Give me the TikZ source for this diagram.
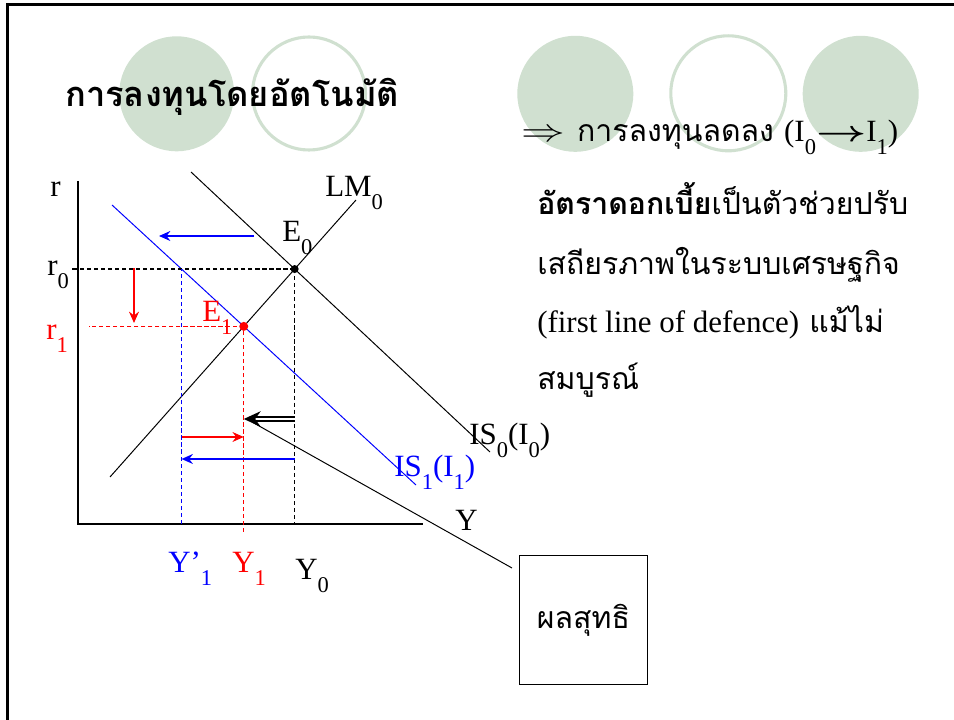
\documentclass[tikz,border=0pt]{standalone}
\usepackage{fontspec}
\setmainfont{Liberation Serif}
\newfontfamily\thaifont[Script=Thai]{Loma}
\usetikzlibrary{arrows.meta,intersections}
\definecolor{leaf}{RGB}{208,224,208}
\newcommand{\lo}[1]{\raisebox{-9pt}{\fontsize{16}{16}\selectfont #1}}
\newcommand{\lat}[1]{{\rmfamily\fontsize{22}{26}\selectfont #1}}

\begin{document}
\begin{tikzpicture}[x=0.025cm, y=-0.025cm,
    every node/.style={inner sep=0pt, font=\fontsize{22}{26}\selectfont},
    thai/.style={font=\thaifont\fontsize{21.5}{28}\selectfont},
    curve/.style={line width=0.7pt},
    guide/.style={line width=1pt, dash pattern=on 3pt off 2pt},
    move/.style={line width=2.1pt, -{Stealth[length=8pt, width=7pt]}}]
  \useasboundingbox (0,0) rectangle (954,720);

  % slide frame and circles
  \draw[line width=2.2pt] (7.5,720) -- (7.5,4.5) -- (954,4.5);
  \fill[leaf] (176.7,93.8) circle (57.5);
  \draw[leaf, line width=2.2pt] (309,93.5) circle (56.5);
  \fill[leaf] (575.3,93.8) circle (58);
  \draw[leaf, line width=2.2pt] (728.3,93.3) circle (57.5);
  \fill[leaf] (860.7,93.8) circle (58);

  \node[font=\thaifont\bfseries\fontsize{24.5}{30}\selectfont, anchor=base west] (title) at (65,107) {การลงทุนโดยอัตโนมัติ};

  % axes
  \coordinate (origin) at (78,524);
  \draw[line width=1pt] (78,181) -- (origin) -- (423,524);
  \node[anchor=base west] (rlab) at (50,197) {r};
  \node[anchor=base west] (ylab) at (455,531) {Y};

  % curves
  \draw[curve, name path=lm] (110,477) -- (356,200);
  \draw[curve, name path=iszero] (191,172) -- (490,452);
  \draw[curve, blue, name path=isone] (112,205) -- (416,485);
  \path[name intersections={of=lm and iszero, by=ezero}];
  \path[name intersections={of=lm and isone, by=eone}];

  % guide lines
  \draw[guide, name path=rzero] (ezero) -- (70,0 |- ezero);
  \path[name intersections={of=rzero and isone, by=yprime}];
  \draw[guide] (ezero) -- (ezero |- origin);
  \draw[guide, draw=red] (eone) -- (89,0 |- eone);
  \draw[guide, draw=red] (eone |- 0,532) -- (eone);
  \draw[guide, draw=blue] (yprime |- origin) -- (yprime);
  \fill (ezero) circle (4);
  \fill[red] (eone) circle (4.5);

  % labels
  \node[anchor=base west] (lmlab) at (325,197) {LM\lo{0}};
  \node[anchor=base west] (ezlab) at (282,242) {E\lo{0}};
  \node[anchor=base west, red] (eolab) at (202,322) {E\lo{1}};
  \node[anchor=base west] (rzlab) at (47,276) {r\lo{0}};
  \node[anchor=base west, red] (rolab) at (46,340) {r\lo{1}};
  \node[anchor=base west] (iszlab) at (469,445) {IS\lo{0}(I\lo{0})};
  \node[anchor=base west, blue] (isolab) at (394,477) {IS\lo{1}(I\lo{1})};
  \node[anchor=base west, blue] (yplab) at (168,573) {Y’\lo{1}};
  \node[anchor=base west, red] (yolab) at (232,573) {Y\lo{1}};
  \node[anchor=base west] (yzlab) at (295,580) {Y\lo{0}};

  % shifts
  \draw[move, blue] (254,236) -- (159,236);
  \draw[move, red] (134,268) -- (134,323);
  \draw[move, red] (yprime |- 0,437) -- (eone |- 0,437);
  \draw[move, blue] (ezero |- 0,459) -- (yprime |- 0,459);
  \draw[line width=1.2pt, double=white, double distance=1.4pt, -{Stealth[length=12pt, width=11pt]}] (ezero |- 0,419) -- (eone |- 0,419);

  % net effect box
  \node[thai, draw, line width=0.8pt, minimum width=3.21cm, minimum height=3.21cm] (net) at (583.5,620) {ผลสุทธิ};
  \coordinate (tiphead) at (252,422);
  \coordinate (netend) at (512,568);
  \draw[curve] (tiphead) -- (netend);

  % explanation
  \node[thai, anchor=base west] (fall) at (521,142) {\lat{\scalebox{1.5}[1.1]{$\Rightarrow$}}\hspace{0.4em}การลงทุนลดลง \lat{(I\lo{0}\scalebox{1.5}[1]{\boldmath$\rightarrow$}I\lo{1})}};
  \node[thai, anchor=base west] (rate) at (537,215) {{\bfseries อัตราดอกเบี้ย}เป็นตัวช่วยปรับ};
  \node[thai, anchor=base west] (stab) at (537,275) {เสถียรภาพในระบบเศรษฐกิจ};
  \node[thai, anchor=base west] (guard) at (537,333) {\lat{(first line of defence)} แม้ไม่};
  \node[thai, anchor=base west] (whole) at (537,390) {สมบูรณ์};
\end{tikzpicture}
\end{document}
